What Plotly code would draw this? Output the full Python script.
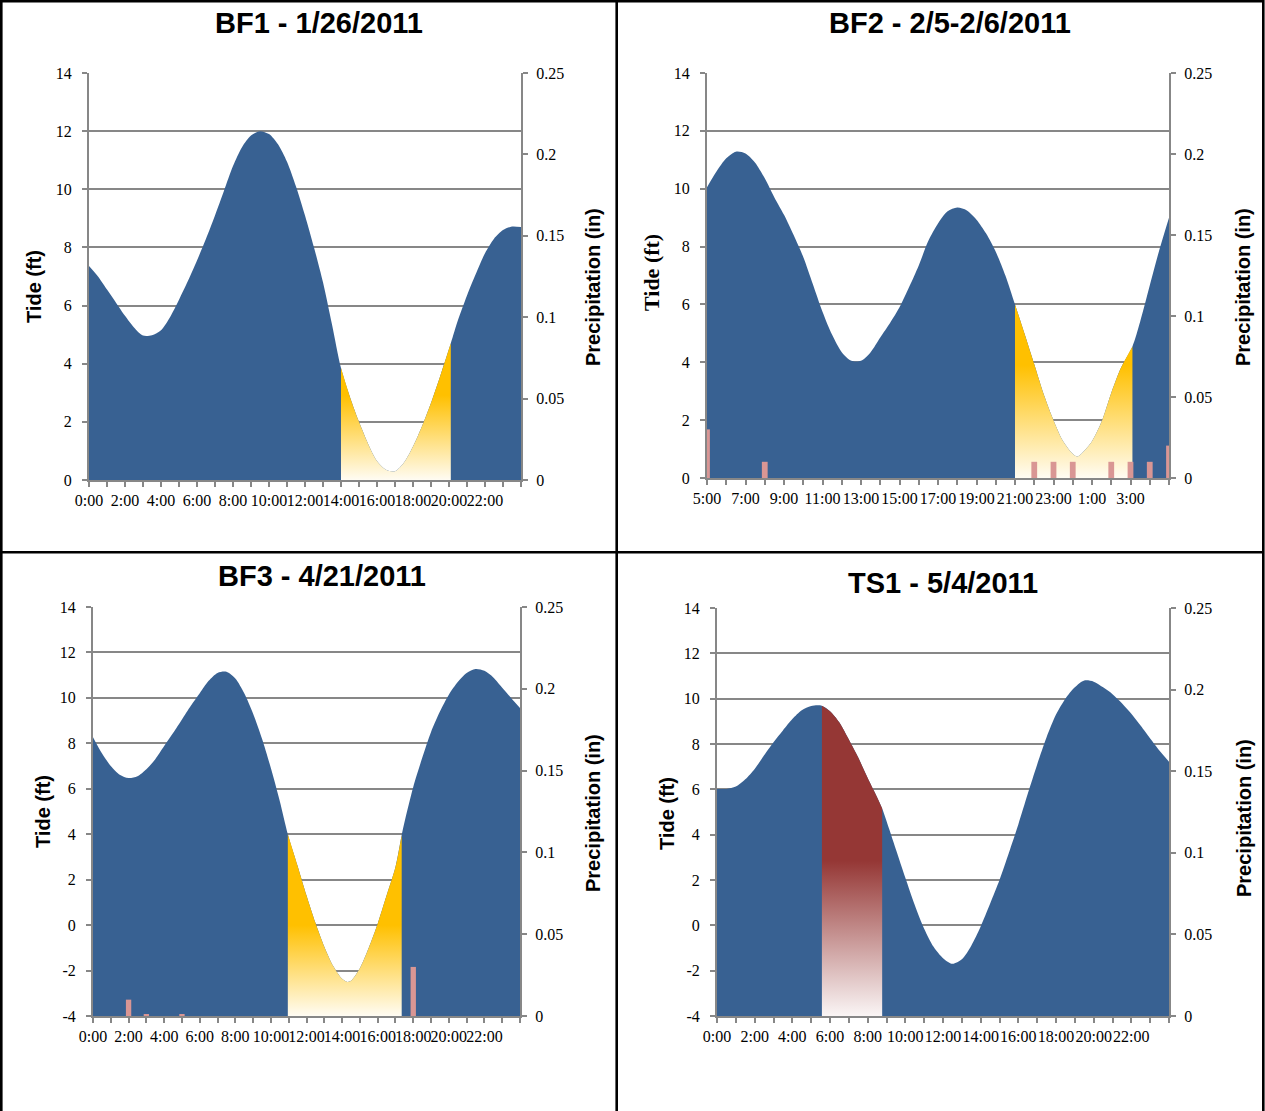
import plotly.graph_objects as go

# ---------------- data ----------------
# Tide height (ft) vs. hours from the start of each record, precipitation (in) per hour,
# and the highlighted window (start hour, end hour) for each event.

BF1_HOURS = [0, 0.5, 1, 1.5, 2, 2.5, 3, 3.5, 4, 4.5, 5, 5.5, 6, 6.5, 7, 7.5, 8, 8.5, 9, 9.5,
             10, 10.5, 11, 11.5, 12, 12.5, 13, 13.5, 14, 14.5, 15, 15.5, 16, 16.5, 17, 17.5,
             18, 18.5, 19, 19.5, 20.1, 20.5, 21, 21.5, 22, 22.5, 23, 23.5, 24]
BF1_TIDE_FT = [7.36, 7.0, 6.55, 6.1, 5.65, 5.25, 4.97, 4.98, 5.15, 5.6, 6.2, 6.85, 7.55, 8.3,
               9.1, 9.95, 10.8, 11.45, 11.85, 12.0, 11.9, 11.55, 10.95, 10.1, 9.1, 8.0, 6.8,
               5.35, 3.85, 2.85, 2.0, 1.25, 0.65, 0.35, 0.3, 0.6, 1.15, 1.85, 2.65, 3.55, 4.7,
               5.5, 6.35, 7.1, 7.8, 8.3, 8.6, 8.72, 8.7]
BF1_PRECIP_HOURS = []
BF1_PRECIP_IN = []
BF1_WINDOW = (14.0, 20.1)

BF2_HOURS = [0, 0.5, 1, 1.5, 2, 2.5, 3, 3.5, 4, 4.5, 5, 5.5, 6, 6.5, 7, 7.5, 8, 8.5, 9, 9.5,
             10, 10.5, 11, 11.5, 12, 12.5, 13, 13.5, 14, 14.5, 15, 15.5, 16, 16.5, 17, 17.5,
             18, 18.5, 19, 19.25, 19.5, 20, 20.5, 21, 21.5, 22.1, 22.5, 23, 23.5, 24]
BF2_TIDE_FT = [10.05, 10.6, 11.05, 11.28, 11.22, 10.9, 10.36, 9.7, 9.1, 8.4, 7.64, 6.7, 5.75,
               4.95, 4.35, 4.05, 4.05, 4.35, 4.86, 5.35, 5.9, 6.6, 7.35, 8.2, 8.8, 9.22, 9.35,
               9.25, 8.93, 8.45, 7.82, 7.0, 6.0, 4.98, 3.93, 2.88, 2.0, 1.27, 0.84, 0.74, 0.87,
               1.27, 1.95, 2.94, 3.8, 4.55, 5.4, 6.65, 7.89, 9.0]
BF2_PRECIP_HOURS = [0, 3, 17, 18, 19, 21, 22, 23, 24]
BF2_PRECIP_IN = [0.03, 0.01, 0.01, 0.01, 0.01, 0.01, 0.01, 0.01, 0.02]
BF2_WINDOW = (16.0, 22.1)

BF3_HOURS = [0, 0.5, 1, 1.5, 2, 2.5, 3, 3.5, 4, 4.5, 5, 5.5, 6, 6.5, 7, 7.5, 8, 8.5, 9, 9.5,
             10, 10.5, 10.95, 11.5, 12, 12.5, 13, 13.5, 14, 14.3, 14.5, 15, 15.5, 16, 16.5, 17,
             17.35, 17.5, 18, 18.5, 19, 19.5, 20, 20.5, 21, 21.5, 22, 22.5, 23, 23.5, 24]
BF3_TIDE_FT = [8.27, 7.56, 7.0, 6.62, 6.47, 6.55, 6.86, 7.3, 7.88, 8.45, 9.05, 9.65, 10.2,
               10.75, 11.1, 11.15, 10.85, 10.2, 9.3, 8.2, 6.9, 5.45, 4.0, 2.6, 1.3, 0.1, -0.95,
               -1.8, -2.36, -2.5, -2.45, -1.9, -1.0, 0.06, 1.3, 2.56, 3.97, 4.5, 6.08, 7.35,
               8.5, 9.4, 10.14, 10.7, 11.1, 11.27, 11.19, 10.9, 10.45, 10.0, 9.56]
BF3_PRECIP_HOURS = [2, 3, 5, 18]
BF3_PRECIP_IN = [0.01, 0.001, 0.001, 0.03]
BF3_WINDOW = (10.95, 17.35)

TS1_HOURS = [0, 0.5, 1, 1.5, 2, 2.5, 3, 3.5, 4, 4.5, 5, 5.57, 6, 6.5, 7, 7.5, 8, 8.5, 8.77,
             9, 9.5, 10, 10.5, 11, 11.5, 12, 12.5, 13, 13.5, 14, 14.5, 15, 15.5, 16, 16.5, 17,
             17.5, 18, 18.5, 19, 19.5, 20, 20.5, 21, 21.5, 22, 22.5, 23, 23.5, 24]
TS1_TIDE_FT = [6.02, 6.02, 6.12, 6.44, 6.9, 7.5, 8.08, 8.6, 9.1, 9.49, 9.68, 9.69, 9.45, 8.95,
               8.2, 7.4, 6.5, 5.65, 5.15, 4.6, 3.35, 2.1, 0.9, -0.15, -0.95, -1.45, -1.7, -1.5,
               -0.9, -0.05, 0.95, 2.0, 3.2, 4.45, 5.8, 7.1, 8.3, 9.3, 10.0, 10.5, 10.8, 10.75,
               10.5, 10.2, 9.8, 9.33, 8.8, 8.24, 7.7, 7.22]
TS1_PRECIP_HOURS = []
TS1_PRECIP_IN = []
TS1_WINDOW = (5.57, 8.77)

DAY_TICK_LABELS = ["0:00", "2:00", "4:00", "6:00", "8:00", "10:00", "12:00", "14:00",
                   "16:00", "18:00", "20:00", "22:00"]
BF2_TICK_LABELS = ["5:00", "7:00", "9:00", "11:00", "13:00", "15:00", "17:00", "19:00",
                   "21:00", "23:00", "1:00", "3:00"]

TITLES = ["BF1 - 1/26/2011", "BF2 - 2/5-2/6/2011", "BF3 - 4/21/2011", "TS1 - 5/4/2011"]

# ---------------- styling ----------------
W, H = 1265, 1111
BLUE = "#386192"
PINK = "#D99694"
GOLD = "#FFC000"
CREAM = "#FFFCF3"
RED = "#953735"
BLUSH = "#FAF5F5"
GRAY = "#878787"
INK = "#000000"
SANS = "Liberation Sans, Arial, sans-serif"
SERIF = "Liberation Serif, Times New Roman, serif"


def px_x(x):
    return x / W


def px_y(y):
    return 1 - y / H


panels = [
    dict(hours=BF1_HOURS, tide=BF1_TIDE_FT, ph=BF1_PRECIP_HOURS, pin=BF1_PRECIP_IN,
         window=BF1_WINDOW, ticks=DAY_TICK_LABELS, ymin=0,
         grad=(CREAM, GOLD, 0.62), box=(89, 73, 521, 480),
         title_xy=(319, 23), tide_xy=(34, 287), precip_xy=(593, 287), tide_font=SANS),
    dict(hours=BF2_HOURS, tide=BF2_TIDE_FT, ph=BF2_PRECIP_HOURS, pin=BF2_PRECIP_IN,
         window=BF2_WINDOW, ticks=BF2_TICK_LABELS, ymin=0,
         grad=(CREAM, GOLD, 0.65), box=(707, 73, 1169, 478),
         title_xy=(950, 23), tide_xy=(652, 273), precip_xy=(1243, 287), tide_font=SERIF),
    dict(hours=BF3_HOURS, tide=BF3_TIDE_FT, ph=BF3_PRECIP_HOURS, pin=BF3_PRECIP_IN,
         window=BF3_WINDOW, ticks=DAY_TICK_LABELS, ymin=-4,
         grad=(CREAM, GOLD, 0.5), box=(93, 607, 520, 1016),
         title_xy=(322, 576), tide_xy=(43, 812), precip_xy=(593, 813), tide_font=SANS),
    dict(hours=TS1_HOURS, tide=TS1_TIDE_FT, ph=TS1_PRECIP_HOURS, pin=TS1_PRECIP_IN,
         window=TS1_WINDOW, ticks=DAY_TICK_LABELS, ymin=-4,
         grad=(BLUSH, RED, 0.5), box=(717, 608, 1169, 1016),
         title_xy=(943, 583), tide_xy=(667, 813), precip_xy=(1244, 818), tide_font=SANS),
]

fig = go.Figure()
layout = dict(
    width=W, height=H, margin=dict(l=0, r=0, t=0, b=0, pad=0), autosize=False,
    paper_bgcolor="white", plot_bgcolor="white", showlegend=False,
    annotations=[], shapes=[],
)

for i, p in enumerate(panels):
    xn = "" if i == 0 else str(i + 1)
    yl = "" if i == 0 else str(2 * i + 1)
    yr = str(2 * i + 2)
    xref, ylref, yrref = "x" + xn, "y" + yl, "y" + yr
    x0, y0, x1, y1 = p["box"]
    xdom = [px_x(x0), px_x(x1)]
    ydom = [px_y(y1), px_y(y0)]
    base = p["ymin"]
    hrs, tide = p["hours"], p["tide"]
    lo, hi = p["window"]
    sh = [h for h in hrs if lo <= h <= hi]
    st = [t for h, t in zip(hrs, tide) if lo <= h <= hi]
    c_low, c_high, frac = p["grad"]

    # floor of the axis, used as the lower edge of the fills
    fig.add_trace(go.Scatter(
        x=[hrs[0], hrs[-1]], y=[base, base], mode="lines", line=dict(width=0),
        hoverinfo="skip", xaxis=xref, yaxis=ylref))
    # tide area
    fig.add_trace(go.Scatter(
        x=hrs, y=tide, mode="lines", fill="tonexty", fillcolor=BLUE,
        line=dict(width=0, color=BLUE, shape="spline", smoothing=0.8),
        hoverinfo="skip", xaxis=xref, yaxis=ylref))

    # highlighted window with a vertical gradient fill
    fig.add_trace(go.Scatter(
        x=[sh[0], sh[-1]], y=[base, base], mode="lines", line=dict(width=0),
        hoverinfo="skip", xaxis=xref, yaxis=ylref))
    fig.add_trace(go.Scatter(
        x=sh, y=st, mode="lines", fill="tonexty",
        line=dict(width=0, color=c_high, shape="spline", smoothing=0.8),
        fillgradient=dict(type="vertical",
                          colorscale=[[0, c_low], [frac, c_high], [1, c_high]]),
        hoverinfo="skip", xaxis=xref, yaxis=ylref))

    # hourly precipitation on the right axis
    fig.add_trace(go.Bar(
        x=p["ph"], y=p["pin"], width=0.3, marker=dict(color=PINK, line=dict(width=0)),
        hoverinfo="skip", xaxis=xref, yaxis=yrref))

    tide_ticks = list(range(base, 15, 2))
    layout["xaxis" + xn] = dict(
        domain=xdom, anchor=ylref, range=[0, 24], automargin=False,
        tickmode="array", tickvals=list(range(0, 24, 2)), ticktext=p["ticks"],
        ticks="outside", ticklen=5, tickwidth=1.5, tickcolor=GRAY, tickangle=0,
        minor=dict(tickmode="linear", tick0=0, dtick=1, ticks="outside", ticklen=5,
                   tickwidth=1.5, tickcolor=GRAY, showgrid=False),
        showline=True, linecolor=GRAY, linewidth=2, showgrid=False, zeroline=False,
        tickfont=dict(family=SERIF, size=16, color=INK), ticklabelstandoff=0,
        fixedrange=True)
    layout["yaxis" + yl] = dict(
        domain=ydom, anchor=xref, range=[base, 14], automargin=False,
        tickmode="array", tickvals=tide_ticks, ticktext=[str(v) for v in tide_ticks],
        ticks="outside", ticklen=5, tickwidth=1.5, tickcolor=GRAY,
        showline=True, linecolor=GRAY, linewidth=2,
        showgrid=True, gridcolor=GRAY, gridwidth=1.6, zeroline=False,
        tickfont=dict(family=SERIF, size=16, color=INK), ticklabelstandoff=7,
        fixedrange=True)
    layout["yaxis" + yr] = dict(
        domain=ydom, anchor=xref, overlaying=ylref, side="right", range=[0, 0.25],
        automargin=False, tickmode="linear", tick0=0, dtick=0.05,
        ticks="outside", ticklen=5, tickwidth=1.5, tickcolor=GRAY,
        showline=True, linecolor=GRAY, linewidth=2, showgrid=False, zeroline=False,
        tickfont=dict(family=SERIF, size=16, color=INK), ticklabelstandoff=5,
        fixedrange=True)

    tx, ty = p["title_xy"]
    layout["annotations"].append(dict(
        text="<b>%s</b>" % TITLES[i], x=px_x(tx), y=px_y(ty), xref="paper", yref="paper",
        xanchor="center", yanchor="middle", showarrow=False,
        font=dict(family=SANS, size=29, color="black")))
    lx, ly = p["tide_xy"]
    layout["annotations"].append(dict(
        text="<b>Tide (ft)</b>", x=px_x(lx), y=px_y(ly), xref="paper", yref="paper",
        xanchor="center", yanchor="middle", showarrow=False, textangle=-90,
        font=dict(family=p["tide_font"], size=20 if p["tide_font"] == SANS else 22,
                  color="black")))
    rx, ry = p["precip_xy"]
    layout["annotations"].append(dict(
        text="<b>Precipitation (in)</b>", x=px_x(rx), y=px_y(ry), xref="paper", yref="paper",
        xanchor="center", yanchor="middle", showarrow=False, textangle=-90,
        font=dict(family=SANS, size=20, color="black")))

# panel frames
frame = dict(type="line", xref="paper", yref="paper", line=dict(color="black", width=2.6))
for (ax, ay, bx, by) in [(0, 1.3, 1263.3, 1.3), (1.3, 0, 1.3, H), (1263.3, 0, 1263.3, H),
                         (616.7, 0, 616.7, H), (0, 552.3, 1263.3, 552.3)]:
    layout["shapes"].append(dict(frame, x0=px_x(ax), y0=px_y(ay), x1=px_x(bx), y1=px_y(by)))

fig.update_layout(**layout)
fig.write_html("out.html", config={"displayModeBar": False})
